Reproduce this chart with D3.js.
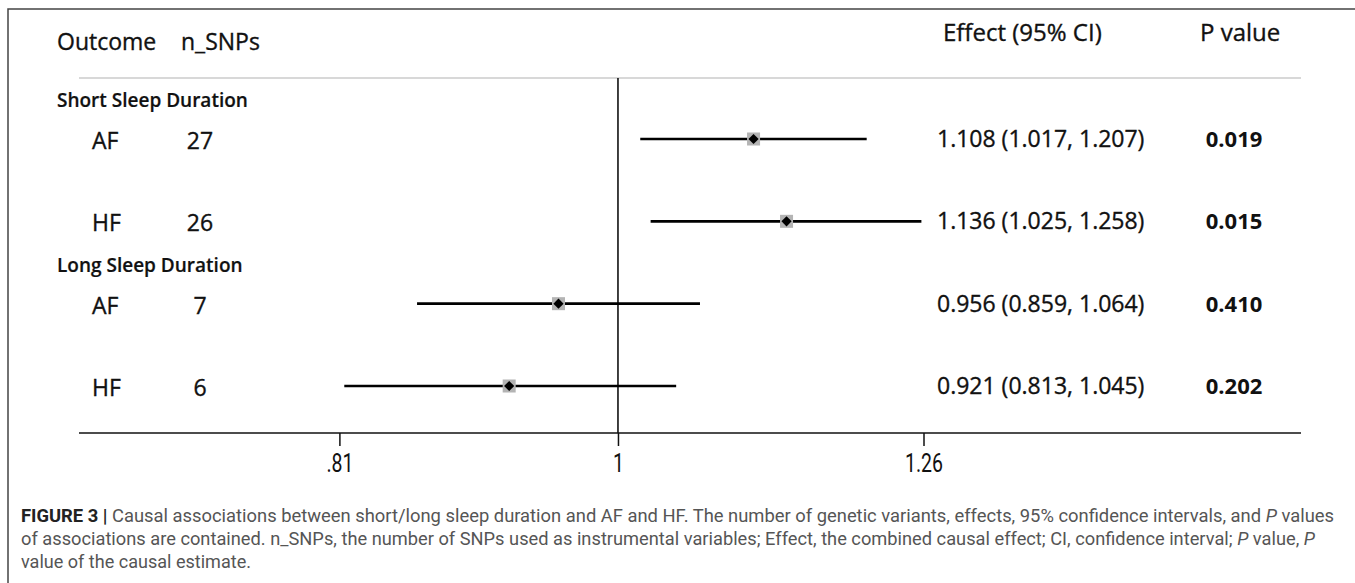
<!DOCTYPE html>
<html lang="en">
  <head>
    <script src="https://d3js.org/d3.v7.min.js"></script>
    <style>
      body { margin: 0; background: #fff; }
      text { font-family: "Open Sans", "Noto Sans", sans-serif; fill: #111; }
      .heavy { stroke: #111; stroke-width: 0.35px; }
      .narrow { font-family: "Roboto", "Liberation Sans", sans-serif; }
    </style>
  </head>
  <body>
    <script>
      // data
      var groups = ["Short Sleep Duration", "Long Sleep Duration"];
      var groupOf = [0, 0, 1, 1];
      var outcomes = ["AF", "HF", "AF", "HF"];
      var nSNPs = [27, 26, 7, 6];
      var effect = [1.108, 1.136, 0.956, 0.921];
      var lower = [1.017, 1.025, 0.859, 0.813];
      var upper = [1.207, 1.258, 1.064, 1.045];
      var pValues = ["0.019", "0.015", "0.410", "0.202"];
      var tickValues = [0.81, 1, 1.26];
      var tickLabels = [".81", "1", "1.26"];

      var width = 1355,
        height = 583;

      var svg = d3
        .select("body")
        .append("svg")
        .attr("width", width)
        .attr("height", height);

      // frame (only top and left edges visible in the crop)
      svg
        .append("path")
        .attr("d", "M8,583V9H1355")
        .attr("fill", "none")
        .attr("stroke", "#444")
        .attr("stroke-width", 1.5);

      // log scale for ratios
      var x = d3.scaleLog().domain([0.81, 1.26]).range([339.4, 923.5]);
      // row positions
      var y = d3.scaleLinear().domain([0, 3]).range([139, 386]);

      var rows = outcomes.map(function (o, i) {
        return {
          outcome: o,
          group: groupOf[i],
          n: nSNPs[i],
          est: effect[i],
          lo: lower[i],
          hi: upper[i],
          p: pValues[i],
          i: i
        };
      });

      // header
      var header = svg.append("g").style("font-size", "24px");
      header.append("text").attr("class", "heavy").attr("x", 57).attr("y", 50).style("font-size", "23px").text("Outcome");
      header.append("text").attr("class", "heavy").attr("x", 181).attr("y", 50).style("font-size", "23px").text("n_SNPs");
      header.append("text").attr("class", "heavy").attr("x", 943).attr("y", 41).text("Effect (95% CI)");
      header.append("text").attr("class", "heavy").attr("x", 1200).attr("y", 41).text("P value");

      svg
        .append("line")
        .attr("x1", 79)
        .attr("x2", 1301)
        .attr("y1", 78)
        .attr("y2", 78)
        .attr("stroke", "#cbcbcb")
        .attr("stroke-width", 1.5);

      // group labels, placed above the first row of each group
      svg
        .selectAll(".grp")
        .data(groups)
        .join("text")
        .attr("class", "grp heavy")
        .attr("x", 57)
        .attr("y", function (d, g) {
          return y(groupOf.indexOf(g)) - 32;
        })
        .style("font-size", "19px")
        .style("font-weight", 600)
        .style("stroke-width", "0.2px")
        .text(function (d) {
          return d;
        });

      // reference line at 1
      svg
        .append("line")
        .attr("x1", x(1))
        .attr("x2", x(1))
        .attr("y1", 78)
        .attr("y2", 433)
        .attr("stroke", "#111")
        .attr("stroke-width", 1.6);

      var row = svg
        .selectAll(".row")
        .data(rows)
        .join("g")
        .attr("class", "row")
        .attr("transform", function (d) {
          return "translate(0," + y(d.i) + ")";
        })
        .style("font-size", "23px");

      row
        .append("text")
        .attr("class", "heavy")
        .attr("x", 92)
        .attr("y", 10)
        .text(function (d) {
          return d.outcome;
        });

      row
        .append("text")
        .attr("class", "heavy")
        .attr("x", 200)
        .attr("y", 10)
        .attr("text-anchor", "middle")
        .text(function (d) {
          return d.n;
        });

      row
        .append("text")
        .attr("class", "heavy")
        .attr("x", 937)
        .attr("y", 8)
        .text(function (d) {
          return d3.format(".3f")(d.est) + " (" + d3.format(".3f")(d.lo) + ", " + d3.format(".3f")(d.hi) + ")";
        });

      row
        .append("text")
        .attr("x", 1234)
        .attr("y", 8)
        .attr("text-anchor", "middle")
        .style("font-size", "22px")
        .style("font-weight", 700)
        .text(function (d) {
          return d.p;
        });

      // confidence intervals
      row
        .append("line")
        .attr("x1", function (d) {
          return x(d.lo);
        })
        .attr("x2", function (d) {
          return x(d.hi);
        })
        .attr("stroke", "#000")
        .attr("stroke-width", 2.6);

      // grey weight box + diamond point estimate
      row
        .append("rect")
        .attr("x", function (d) {
          return x(d.est) - 6.5;
        })
        .attr("y", -6.5)
        .attr("width", 13)
        .attr("height", 13)
        .attr("fill", "#b4b4b4");

      row
        .append("path")
        .attr("d", d3.symbol(d3.symbolSquare, 52)())
        .attr("transform", function (d) {
          return "translate(" + x(d.est) + ",0) rotate(45)";
        })
        .attr("fill", "#000");

      // x axis
      var axis = svg
        .append("g")
        .attr("transform", "translate(0,433)")
        .call(
          d3
            .axisBottom(x)
            .tickValues(tickValues)
            .tickFormat(function (d, i) {
              return tickLabels[i];
            })
            .tickSize(13)
        );
      axis.select(".domain").remove();
      axis.selectAll(".tick line").attr("stroke", "#111").attr("stroke-width", 1.5);
      axis
        .selectAll(".tick text")
        .attr("class", "narrow")
        .attr("y", 39)
        .attr("dy", 0)
        .attr("fill", "#111")
        .attr("transform", "scale(0.78,1)")
        .style("font-size", "25px");
      axis
        .append("line")
        .attr("x1", 79)
        .attr("x2", 1301)
        .attr("stroke", "#111")
        .attr("stroke-width", 1.6);

      // caption
      var cap = svg
        .append("g")
        .style("font-size", "18px");

      var l1 = cap.append("text").attr("class", "narrow").attr("x", 21).attr("y", 522)
        .attr("textLength", 1313).attr("lengthAdjust", "spacingAndGlyphs").style("fill", "#555");
      l1.append("tspan").style("font-weight", "bold").style("fill", "#222").text("FIGURE 3 | ");
      l1.append("tspan").text("Causal associations between short/long sleep duration and AF and HF. The number of genetic variants, effects, 95% confidence intervals, and ");
      l1.append("tspan").style("font-style", "italic").text("P");
      l1.append("tspan").text(" values");

      var l2 = cap.append("text").attr("class", "narrow").attr("x", 21).attr("y", 545)
        .attr("textLength", 1294).attr("lengthAdjust", "spacingAndGlyphs").style("fill", "#555");
      l2.append("tspan").text("of associations are contained. n_SNPs, the number of SNPs used as instrumental variables; Effect, the combined causal effect; CI, confidence interval; ");
      l2.append("tspan").style("font-style", "italic").text("P");
      l2.append("tspan").text(" value, ");
      l2.append("tspan").style("font-style", "italic").text("P");

      cap.append("text").attr("class", "narrow").attr("x", 21).attr("y", 568)
        .attr("textLength", 230).attr("lengthAdjust", "spacingAndGlyphs")
        .style("fill", "#555").text("value of the causal estimate.");
    </script>
  </body>
</html>
